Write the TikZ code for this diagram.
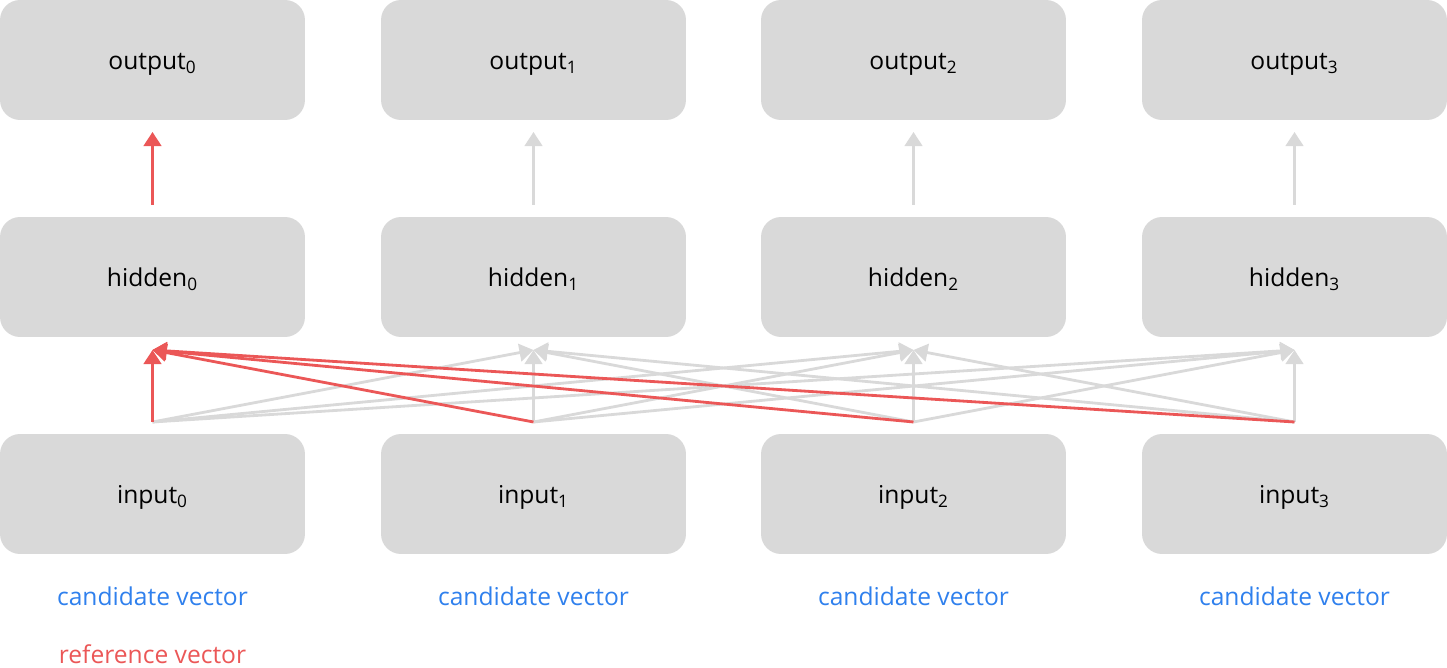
\documentclass[tikz,border=0pt]{standalone}
\usepackage{fontspec}
\setmainfont{Open Sans}
\usetikzlibrary{arrows.meta}
\definecolor{boxgray}{HTML}{D9D9D9}
\definecolor{refred}{HTML}{EB5757}
\definecolor{candblue}{HTML}{2F80ED}
\newcommand{\celltext}[1]{\raisebox{-0.19cm}[0pt][0pt]{#1}}

\begin{document}
\begin{tikzpicture}[x=0.02cm, y=-0.02cm,
  cell/.style = {shape=rectangle, rounded corners=0.4cm, fill=boxgray, minimum width=6.1cm,
    minimum height=2.4cm, font=\fontsize{14}{17}\selectfont},
  tag/.style = {font=\fontsize{14}{17}\selectfont},
  link/.style = {line width=1.6pt, -{Triangle[width=10pt, length=8pt]}}]
  \useasboundingbox (0,0) rectangle (1447,668);
  \foreach \i/\x in {0/152.5, 1/533.5, 2/913.5, 3/1294.5} {
    \node[cell] (out\i) at (\x,60) {\celltext{output\textsubscript{\i}}};
    \node[cell] (hid\i) at (\x,277) {\celltext{hidden\textsubscript{\i}}};
    \node[cell] (in\i) at (\x,494) {\celltext{input\textsubscript{\i}}};
    \node[tag, text=candblue] (cand\i) at (\x,596) {candidate vector};
    \coordinate (h\i) at (\x,350);
    \coordinate (i\i) at (\x,422);
    \coordinate (ho\i) at (\x,205);
    \coordinate (o\i) at (\x,132);
  }
  \node[tag, text=refred] (ref) at (152.5,654) {reference vector};
  % candidates into the other hidden states
  \foreach \j in {1,2,3}
    \foreach \k in {0,1,2,3}
      \draw[link, boxgray] (i\k) -- (h\j);
  \foreach \j in {1,2,3}
    \draw[link, boxgray] (ho\j) -- (o\j);
  % reference path
  \foreach \k in {3,2,1,0}
    \draw[link, refred] (i\k) -- (h0);
  \draw[link, refred] (ho0) -- (o0);
\end{tikzpicture}
\end{document}
